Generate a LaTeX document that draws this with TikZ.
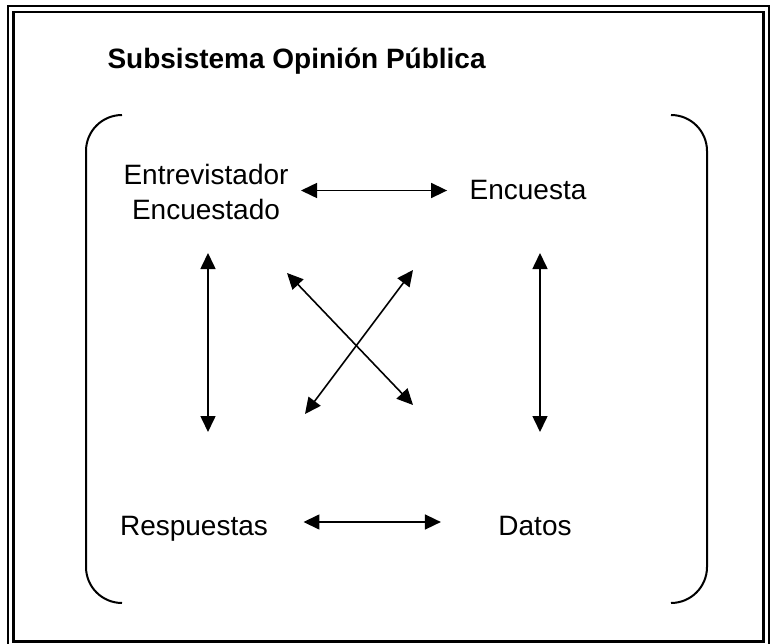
\documentclass[tikz,border=0pt]{standalone}
\usepackage{fontspec}
\setmainfont{Liberation Sans}
\usetikzlibrary{arrows.meta}
\usetikzlibrary{positioning}

\begin{document}
\begin{tikzpicture}[x=1pt,y=-1pt,
			every node/.style={font=\fontsize{28}{35}\selectfont},
			flecha/.style={{Triangle[length=16pt,width=15pt]}-{Triangle[length=16pt,width=15pt]},line width=1.6pt},
			llave/.style={line width=2pt,rounded corners=36pt}]
			\useasboundingbox (0,0) rectangle (770,644);
			% marco doble
			\draw[line width=1.5pt] (8,6) rectangle (769,647);
			\draw[line width=2.2pt] (13.5,12) rectangle (763.5,641.5);
			
			\node[anchor=base west,font=\fontsize{28}{34}\selectfont\bfseries] (titulo) at (104,69) {Subsistema Opini\'on P\'ublica};
			
			% parentesis
			\draw[llave] (122,115) -- (86,115) -- (86,603) -- (122,603);
			\draw[llave] (671,115) -- (707,115) -- (707,603) -- (671,603);
			
			\node[align=center,anchor=base] (entrev) at (206,220) {Entrevistador\\Encuestado};
			\node[anchor=base] (encuesta) at (528,200) {Encuesta};
			\node[anchor=base] (resp) at (194,535) {Respuestas};
			\node[anchor=base] (datos) at (535,535) {Datos};
			
			\coordinate (v1a) at (208,253);
			\coordinate (v1b) at (208,432);
			\coordinate (v2a) at (540,253);
			\coordinate (v2b) at (540,432);
			\coordinate (d1a) at (287,273);
			\coordinate (d1b) at (413,405);
			\coordinate (d2a) at (413,270);
			\coordinate (d2b) at (305,414);
			
			\draw[flecha,shorten <=9pt,shorten >=19pt] (entrev.east |- encuesta.west) -- (encuesta.west);
			\draw[flecha,shorten <=32pt,shorten >=54pt] ([yshift=13pt]resp.base east) -- ([yshift=13pt]datos.base west);
			\draw[flecha] (v1a) -- (v1b);
			\draw[flecha] (v2a) -- (v2b);
			\draw[flecha] (d1a) -- (d1b);
			\draw[flecha] (d2a) -- (d2b);
		\end{tikzpicture}
\end{document}
